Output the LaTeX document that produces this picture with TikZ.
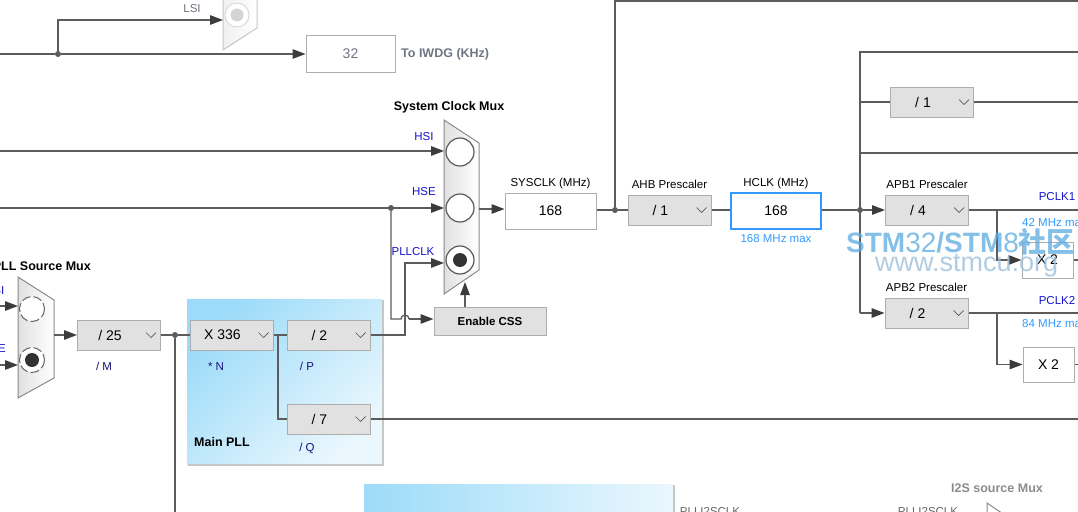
\documentclass[tikz,border=0pt]{standalone}
\usepackage{fontspec}
\setmainfont{Liberation Sans}
\newfontfamily\cjkfont{Noto Sans CJK SC}
\usetikzlibrary{arrows.meta,positioning,calc}

\definecolor{wiregray}{HTML}{5C5C5C}
\definecolor{tipgray}{HTML}{3C3C3C}
\definecolor{boxgray}{HTML}{E1E1E1}
\definecolor{boxline}{HTML}{ADADAD}
\definecolor{sigblue}{HTML}{1414C8}
\definecolor{subblue}{HTML}{14147A}
\definecolor{maxblue}{HTML}{3399FF}
\definecolor{pllblue}{HTML}{9CDBF9}
\definecolor{pllpale}{HTML}{EAF7FD}
\definecolor{muxline}{HTML}{8A8A8A}
\definecolor{dimtext}{HTML}{6E7684}
\definecolor{wmblue}{HTML}{5AAAE0}
\definecolor{wmgray}{HTML}{9CC0DC}

\newcommand{\dropbox}[3]{%
  \node[ddbox] (#1) at (#2) {};
  \node[ddtext] at ([xshift=-9pt]#1.center) {#3};
  \draw[chev] ([xshift=-15pt,yshift=2.5pt]#1.east) -- ([xshift=-10pt,yshift=-2.5pt]#1.east) -- ([xshift=-5pt,yshift=2.5pt]#1.east);
}

\begin{document}
\begin{tikzpicture}[x=1pt,y=-1pt]
    \tikzstyle{wire}=[draw=wiregray, line width=1.3pt]
    \tikzstyle{feed}=[wire, -{Triangle[length=13pt,width=9.5pt,color=tipgray]}]
    \tikzstyle{jdot}=[circle, fill=wiregray, inner sep=0pt, minimum size=6pt]
    \tikzstyle{valbox}=[draw=boxline, fill=white, line width=1pt, minimum width=91pt, minimum height=36pt, inner sep=0pt, font=\fontsize{14}{16}\selectfont]
    \tikzstyle{ddbox}=[draw=boxline, fill=boxgray, line width=1pt, minimum width=83pt, minimum height=30pt, inner sep=0pt]
    \tikzstyle{ddtext}=[inner sep=0pt, font=\fontsize{14}{16}\selectfont]
    \tikzstyle{chev}=[draw=black!65, line width=0.7pt]
    \tikzstyle{capt}=[inner sep=0pt, text height=9pt, text depth=2.5pt, font=\fontsize{11.5}{13}\selectfont]
    \tikzstyle{sig}=[capt, text=sigblue]
    \tikzstyle{title}=[inner sep=0pt, font=\bfseries\fontsize{12.5}{14}\selectfont]
    \tikzstyle{muxbody}=[draw=muxline, line width=1pt, left color=black!12, right color=white]
    \tikzstyle{muxhole}=[draw=black!65, fill=white, line width=1.2pt]

    \useasboundingbox (0,0) rectangle (1078,511);
    \fill[white] (0,0) rectangle (1078,511);
    \clip (0,0) rectangle (1078,511);

    % pll blocks
    \shade[top color=pllblue, bottom color=pllpale, shading angle=45] (187,299) rectangle (382,464);
    \draw[black!22, line width=2pt] (383,300) -- (383,465) -- (188,465);
    \shade[left color=pllblue, right color=pllpale] (364,484) rectangle (673,515);
    \draw[black!22, line width=2pt] (674,485) -- (674,515);
    \node[title, anchor=west] (plltitle) at (194,442) {Main PLL};

    % LSI and IWDG
    \path[draw=black!22, line width=1pt, left color=black!6, right color=white] (223,-5) -- (223,50) -- (257,28) -- (257,-5);
    \draw[black!14, fill=white, line width=1pt] (237,15) circle (12);
    \fill[black!17] (237,15) circle (6.5);
    \coordinate (lsisrc) at (0,54);
    \node[jdot] (lsidot) at (58,54) {};
    \coordinate (lsiin) at (223,20);
    \node[valbox, text=dimtext, minimum width=89pt] (iwdg) at (350.5,54) {32};
    \draw[wire] (lsisrc) -- (lsidot);
    \draw[feed] (lsidot) -- (iwdg);
    \draw[feed] (lsidot) |- (lsiin);
    \node[capt, text=dimtext] (lsilbl) at (192,9) {LSI};
    \node[title, text=dimtext, anchor=west] (iwdglbl) at (401,54) {To IWDG (KHz)};

    % system clock mux
    \path[muxbody] (444,120) -- (479,143) -- (479,270) -- (444,294) -- cycle;
    \draw[muxhole] (460,152) circle (14);
    \draw[muxhole] (460,208) circle (14);
    \draw[muxhole] (460,260) circle (14);
    \fill[black!80] (460,260) circle (7);
    \node[title] (sysmuxlbl) at (449,107) {System Clock Mux};
    \coordinate (hsisrc) at (0,151);
    \coordinate (syshsi) at (444,151);
    \coordinate (hsesrc) at (0,208);
    \node[jdot] (hsedot) at (391,208) {};
    \coordinate (syshse) at (444,208);
    \coordinate (syspll) at (444,263);
    \coordinate (sysout) at (479,209);
    \draw[feed] (hsisrc) -- (syshsi);
    \draw[feed] (hsesrc) -- (syshse);
    \node[sig] (hsilbl) at (424,137) {HSI};
    \node[sig] (hselbl) at (424,192) {HSE};
    \node[sig] (plllbl) at (413,252) {PLLCLK};

    \node[valbox] (sysclk) at (550.5,211) {168};
    \node[capt, above=3pt of sysclk] (sysclklbl) {SYSCLK (MHz)};
    \draw[feed] (sysout) -- (sysout -| sysclk.west);

    % css
    \node[ddbox, minimum width=112pt, minimum height=28pt, font=\bfseries\fontsize{11.5}{13}\selectfont] (css) at (490,321) {Enable CSS};
    \coordinate (hsebend) at (391,319);
    \coordinate (hopa) at (401,319);
    \draw[wire] (hsedot) -- (hsebend) -- (hopa) arc (180:360:4) coordinate (hopb);
    \draw[feed] (hopb) -- (hopb -| css.west);
    \coordinate (cssup) at (465,282);
    \draw[feed] (css.north -| cssup) -- (cssup);

    % pll source mux
    \path[muxbody] (18,277) -- (54,300) -- (54,378) -- (18,398) -- cycle;
    \draw[black!60, fill=white, line width=1pt, dash pattern=on 9pt off 3pt] (32,309) circle (12.5);
    \draw[black!60, fill=white, line width=1pt, dash pattern=on 9pt off 3pt] (32,360) circle (12.5);
    \fill[black!80] (32,360) circle (7);
    \node[title, anchor=east] (srcmuxlbl) at (91,266) {PLL Source Mux};
    \node[sig, anchor=east] (srchsi) at (4.5,291) {HSI};
    \node[sig, anchor=east] (srchse) at (6,349) {HSE};
    \coordinate (pllhsisrc) at (0,306);
    \coordinate (pllhsiin) at (18,306);
    \coordinate (pllhsesrc) at (0,365);
    \coordinate (pllhsein) at (18,365);
    \draw[feed] (pllhsisrc) -- (pllhsiin);
    \draw[feed] (pllhsesrc) -- (pllhsein);
    \coordinate (pllsrcout) at (54,335);

    % main pll
    \dropbox{divm}{119,335}{/ 25}
    \dropbox{muln}{231.5,335}{X 336}
    \dropbox{divp}{328.5,335}{/ 2}
    \dropbox{divq}{328.5,419}{/ 7}
    \node[capt, text=subblue] (mlbl) at (104,367) {/ M};
    \node[capt, text=subblue] (nlbl) at (216,367) {* N};
    \node[capt, text=subblue] (plbl) at (307,367) {/ P};
    \node[capt, text=subblue] (qlbl) at (307,448) {/ Q};
    \draw[feed] (pllsrcout) -- (pllsrcout -| divm.west);
    \node[jdot] (plldot) at (175,335) {};
    \draw[wire] (divm) -- (plldot) -- (muln);
    \coordinate (pllbase) at (175,515);
    \draw[wire] (plldot) -- (pllbase);
    \coordinate (nsplit) at (278,335);
    \draw[wire] (muln) -- (nsplit) -- (divp);
    \draw[wire] (nsplit) |- (divq);
    \coordinate (pllup) at (405,335);
    \draw[feed] (divp) -- (pllup) |- (syspll);
    \coordinate (qend) at (1078,419);
    \draw[wire] (divq) -- (qend);

    % ahb
    \node[jdot] (ahbdot) at (615,210) {};
    \dropbox{ahb}{669.5,210}{/ 1}
    \node[capt, above=3pt of ahb] (ahblbl) {AHB Prescaler};
    \draw[wire] (sysclk.east |- ahbdot) -- (ahbdot) -- (ahb);
    \coordinate (topright) at (1078,1);
    \draw[wire] (ahbdot) |- (topright);
    \node[valbox, draw=maxblue, line width=2pt, minimum width=90pt] (hclk) at (776,211) {168};
    \node[capt, above=3pt of hclk] (hclklbl) {HCLK (MHz)};
    \node[capt, text=maxblue, below=3pt of hclk] (hclkmax) {168 MHz max};
    \draw[wire] (ahb.east) -- (ahb.east -| hclk.west);

    % apb
    \node[jdot] (apbdot) at (860,210) {};
    \dropbox{apbone}{927,210}{/ 4}
    \dropbox{apbtwo}{926.5,313}{/ 2}
    \dropbox{ahbone}{932,102}{/ 1}
    \node[capt, above=3pt of apbone] (apbonelbl) {APB1 Prescaler};
    \node[capt, above=3pt of apbtwo] (apbtwolbl) {APB2 Prescaler};
    \draw[wire] (hclk.east |- apbdot) -- (apbdot);
    \draw[feed] (apbdot) -- (apbone);
    \coordinate (tapa) at (1078,52);
    \coordinate (tapbot) at (860,313);
    \draw[wire] (tapa) -| (tapbot);
    \draw[feed] (tapbot) -- (apbtwo);
    \coordinate (tapb) at (860,102);
    \coordinate (tapbend) at (1078,102);
    \draw[wire] (tapb) -- (ahbone) -- (tapbend);
    \coordinate (tapc) at (860,153);
    \coordinate (tapcend) at (1078,153);
    \draw[wire] (tapc) -- (tapcend);

    \coordinate (pclkone) at (1078,210);
    \coordinate (timonesplit) at (997,210);
    \draw[wire] (apbone) -- (pclkone);
    \node[valbox, minimum width=51pt] (timone) at (1047.5,260) {X 2};
    \draw[feed] (timonesplit) |- (timone);
    \coordinate (timoneout) at (1078,260);
    \draw[wire] (timone) -- (timoneout);
    \node[sig] (pclkonelbl) at (1057,197) {PCLK1};
    \node[capt, text=maxblue, anchor=west] (pclkonemax) at (1022,223) {42 MHz max};

    \coordinate (pclktwo) at (1078,313);
    \coordinate (timtwosplit) at (997,313);
    \draw[wire] (apbtwo) -- (pclktwo);
    \node[valbox, minimum width=51pt, minimum height=35pt] (timtwo) at (1048.5,364.5) {X 2};
    \draw[feed] (timtwosplit) |- (timtwo);
    \coordinate (timtwoout) at (1078,364.5);
    \draw[wire] (timtwo) -- (timtwoout);
    \node[sig] (pclktwolbl) at (1057,301) {PCLK2};
    \node[capt, text=maxblue, anchor=west] (pclktwomax) at (1022,324) {84 MHz max};

    % i2s
    \node[title, text=black!45] (i2slbl) at (997,488) {I2S source Mux};
    \draw[muxline, line width=1pt] (987,515) -- (987,503) -- (1012,520);
    \node[capt, text=black!60] (plli2sa) at (710,512) {PLLI2SCLK};
    \node[capt, text=black!60] (plli2sb) at (928,512) {PLLI2SCLK};

    % watermark
    \node[anchor=base west, inner sep=0pt, text=wmblue, opacity=0.75, font=\fontsize{28}{30}\selectfont] (wmname) at (846,252) {\textbf{STM}32\textbf{/STM}8{\cjkfont\bfseries 社区}};
    \node[anchor=base west, inner sep=0pt, text=wmgray, opacity=0.8, font=\fontsize{27}{29}\selectfont] (wmsite) at (875,271) {www.stmcu.org};
\end{tikzpicture}
\end{document}
